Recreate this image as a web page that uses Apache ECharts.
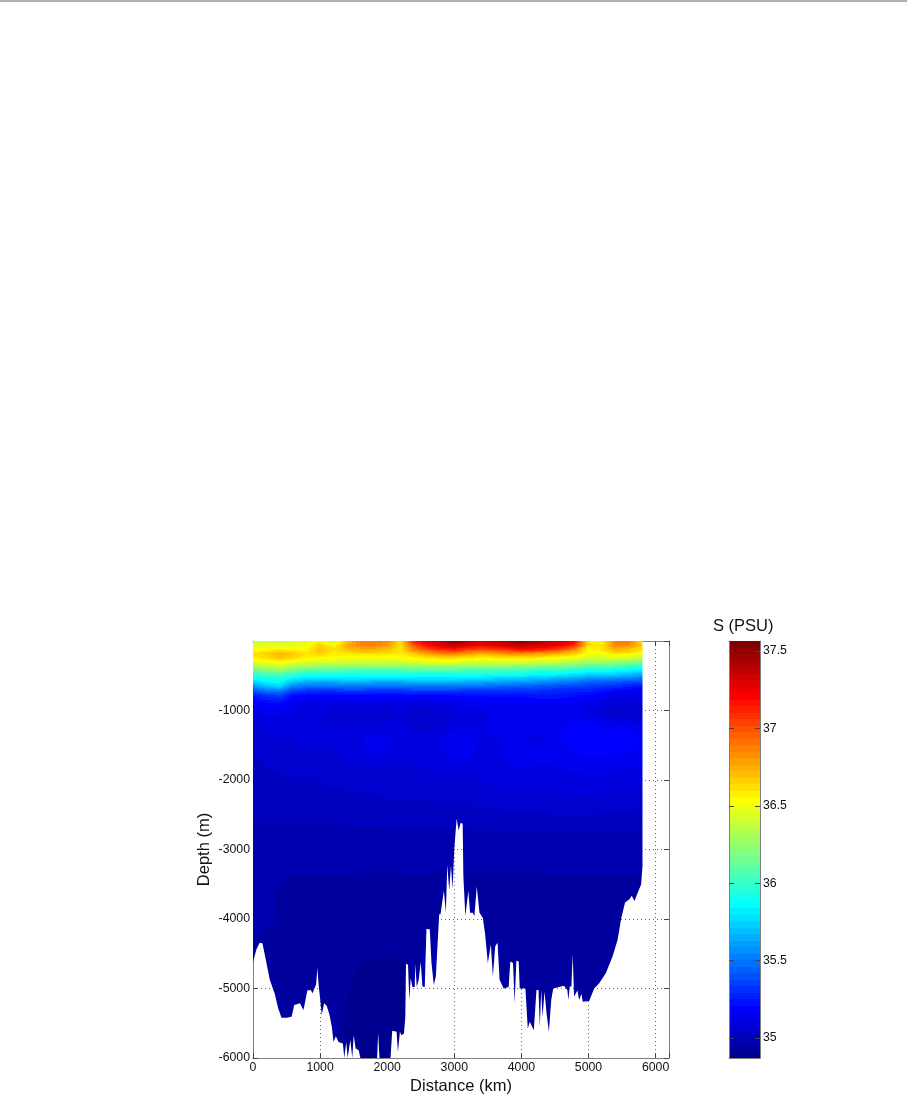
<!DOCTYPE html>
<html><head><meta charset="utf-8">
<style>html,body{margin:0;padding:0;background:#fff}#c{width:907px;height:1114px}</style>
<script src="https://cdn.jsdelivr.net/npm/echarts@6/dist/echarts.min.js"></script>
</head><body><div id="c"></div>
<script>
const xTicks=[0,1000,2000,3000,4000,5000,6000];
const depthTicks=[-6000,-5000,-4000,-3000,-2000,-1000];
const colorbarTicks=[35,35.5,36,36.5,37,37.5];
const distances=[0,200,400,600,800,1000,1200,1400,1600,1800,2000,2200,2400,2600,2800,3000,3200,3400,3600,3800,4000,4200,4400,4600,4800,5000,5200,5400,5600,5810];
const depths=[0,60,120,180,240,300,360,420,480,540,600,660,720,780,900,1000,1100,1200,1400,1600,1800,2000,2400,2800,3200,3600,4000,4400,5000,6000];
const salinity=[
[36.38,36.38,36.4,36.42,36.45,36.55,36.35,36.7,36.85,36.9,36.85,36.6,37.15,37.3,37.4,37.55,37.4,37.35,37.4,37.45,37.55,37.45,37.4,37.35,37.2,36.6,36.55,36.85,36.9,36.6],
[36.44,36.44,36.46,36.46,36.5,36.65,36.55,36.75,36.85,36.85,36.8,36.6,37.0,37.2,37.3,37.4,37.3,37.25,37.3,37.35,37.4,37.35,37.3,37.25,37.1,36.6,36.6,36.85,36.85,36.65],
[36.52,36.54,36.58,36.55,36.55,36.7,36.6,36.7,36.75,36.75,36.7,36.6,36.85,37.0,37.1,37.15,37.05,37.0,37.05,37.1,37.2,37.15,37.1,37.0,36.85,36.55,36.6,36.75,36.7,36.6],
[36.6,36.65,36.72,36.68,36.6,36.65,36.58,36.6,36.62,36.62,36.6,36.58,36.68,36.78,36.85,36.88,36.8,36.75,36.78,36.82,36.85,36.8,36.78,36.72,36.65,36.5,36.52,36.6,36.58,36.5],
[36.58,36.62,36.7,36.62,36.55,36.55,36.52,36.5,36.5,36.5,36.52,36.52,36.55,36.6,36.62,36.62,36.6,36.55,36.58,36.6,36.6,36.58,36.56,36.52,36.5,36.42,36.42,36.45,36.42,36.38],
[36.5,36.52,36.55,36.5,36.45,36.45,36.45,36.42,36.42,36.42,36.42,36.42,36.45,36.48,36.48,36.48,36.45,36.45,36.45,36.45,36.45,36.42,36.42,36.38,36.35,36.3,36.3,36.28,36.25,36.2],
[36.32,36.38,36.42,36.35,36.3,36.28,36.28,36.25,36.25,36.25,36.25,36.25,36.28,36.28,36.28,36.28,36.25,36.25,36.25,36.25,36.22,36.2,36.2,36.18,36.15,36.1,36.1,36.08,36.02,36.0],
[36.15,36.22,36.25,36.15,36.1,36.08,36.08,36.05,36.05,36.05,36.05,36.05,36.08,36.08,36.08,36.08,36.05,36.05,36.05,36.05,36.02,36.0,36.0,35.98,35.95,35.9,35.9,35.88,35.85,35.82],
[35.98,36.02,36.05,35.98,35.92,35.92,35.92,35.92,35.92,35.9,35.9,35.9,35.92,35.92,35.92,35.92,35.9,35.9,35.9,35.88,35.88,35.85,35.85,35.82,35.78,35.74,35.72,35.72,35.68,35.65],
[35.88,35.92,35.95,35.85,35.78,35.78,35.78,35.8,35.8,35.78,35.78,35.78,35.8,35.8,35.8,35.8,35.78,35.78,35.75,35.72,35.72,35.7,35.68,35.65,35.62,35.58,35.56,35.55,35.52,35.5],
[35.72,35.82,35.85,35.68,35.62,35.62,35.62,35.65,35.65,35.62,35.62,35.62,35.65,35.65,35.65,35.65,35.62,35.62,35.6,35.58,35.56,35.55,35.52,35.5,35.48,35.42,35.42,35.4,35.36,35.35],
[35.55,35.68,35.72,35.5,35.48,35.45,35.45,35.48,35.48,35.45,35.45,35.45,35.48,35.48,35.48,35.48,35.46,35.46,35.44,35.42,35.42,35.4,35.38,35.36,35.34,35.32,35.3,35.28,35.25,35.22],
[35.38,35.48,35.5,35.35,35.3,35.3,35.3,35.32,35.32,35.3,35.3,35.3,35.32,35.32,35.32,35.32,35.3,35.3,35.3,35.3,35.3,35.3,35.28,35.26,35.26,35.26,35.22,35.18,35.16,35.15],
[35.25,35.32,35.35,35.22,35.2,35.18,35.18,35.2,35.2,35.2,35.2,35.2,35.2,35.2,35.2,35.22,35.22,35.22,35.22,35.22,35.22,35.24,35.24,35.24,35.22,35.2,35.16,35.12,35.12,35.12],
[35.16,35.2,35.2,35.14,35.12,35.12,35.12,35.12,35.12,35.12,35.12,35.1,35.1,35.1,35.12,35.12,35.14,35.14,35.16,35.16,35.16,35.16,35.16,35.16,35.16,35.14,35.1,35.08,35.08,35.08],
[35.12,35.14,35.14,35.12,35.1,35.09,35.08,35.06,35.08,35.06,35.08,35.09,35.07,35.06,35.07,35.09,35.11,35.12,35.14,35.15,35.15,35.15,35.14,35.13,35.14,35.1,35.07,35.06,35.07,35.05],
[35.1,35.12,35.12,35.11,35.1,35.08,35.06,35.04,35.07,35.04,35.07,35.08,35.05,35.04,35.05,35.08,35.1,35.11,35.13,35.15,35.16,35.16,35.14,35.15,35.16,35.14,35.1,35.07,35.08,35.05],
[35.08,35.1,35.1,35.1,35.1,35.09,35.08,35.08,35.09,35.08,35.09,35.09,35.07,35.06,35.07,35.09,35.12,35.12,35.13,35.13,35.15,35.14,35.13,35.16,35.17,35.18,35.16,35.14,35.14,35.12],
[35.06,35.08,35.08,35.08,35.09,35.09,35.1,35.1,35.12,35.14,35.13,35.11,35.1,35.1,35.12,35.16,35.15,35.12,35.12,35.14,35.13,35.11,35.13,35.17,35.18,35.19,35.19,35.2,35.2,35.16],
[35.04,35.05,35.06,35.07,35.08,35.07,35.08,35.09,35.1,35.13,35.12,35.1,35.09,35.09,35.12,35.16,35.14,35.11,35.1,35.14,35.16,35.14,35.13,35.15,35.17,35.18,35.18,35.17,35.17,35.14],
[35.03,35.04,35.05,35.05,35.06,35.07,35.06,35.07,35.08,35.08,35.08,35.08,35.08,35.08,35.1,35.1,35.1,35.1,35.1,35.12,35.13,35.12,35.12,35.13,35.14,35.14,35.14,35.13,35.13,35.12],
[35.02,35.02,35.03,35.04,35.04,35.04,35.05,35.05,35.05,35.06,35.06,35.06,35.06,35.06,35.07,35.07,35.07,35.08,35.09,35.1,35.1,35.1,35.1,35.1,35.1,35.11,35.11,35.1,35.1,35.09],
[35.01,35.01,35.01,35.01,35.01,35.01,35.01,35.02,35.02,35.02,35.03,35.03,35.03,35.03,35.03,35.03,35.03,35.04,35.04,35.05,35.05,35.05,35.05,35.06,35.06,35.06,35.05,35.05,35.05,35.04],
[34.985,34.985,34.985,34.985,34.985,34.985,34.985,34.985,34.985,34.985,34.985,34.985,34.985,34.985,34.985,34.985,34.985,34.985,34.985,34.985,34.985,34.985,34.985,34.985,34.985,34.985,34.985,34.985,34.985,34.985],
[34.97,34.97,34.97,34.97,34.975,34.975,34.975,34.975,34.965,34.96,34.96,34.965,34.97,34.97,34.96,34.96,34.96,34.96,34.96,34.96,34.96,34.965,34.97,34.97,34.97,34.97,34.97,34.97,34.97,34.965],
[34.97,34.96,34.95,34.93,34.93,34.93,34.93,34.93,34.935,34.935,34.935,34.935,34.935,34.935,34.935,34.935,34.935,34.935,34.935,34.935,34.935,34.935,34.935,34.935,34.935,34.935,34.935,34.935,34.935,34.935],
[34.97,34.96,34.95,34.925,34.925,34.925,34.925,34.925,34.925,34.925,34.925,34.925,34.925,34.93,34.94,34.925,34.925,34.925,34.925,34.925,34.925,34.925,34.925,34.925,34.925,34.925,34.925,34.925,34.925,34.925],
[34.95,34.94,34.93,34.93,34.93,34.93,34.93,34.93,34.92,34.92,34.92,34.92,34.93,34.96,34.96,34.93,34.93,34.93,34.93,34.93,34.93,34.93,34.93,34.93,34.93,34.93,34.93,34.93,34.93,34.93],
[34.93,34.93,34.93,34.93,34.93,34.93,34.93,34.915,34.9,34.89,34.89,34.89,34.92,35.0,34.95,34.93,34.93,34.93,34.93,34.93,34.93,34.93,34.93,34.93,34.93,34.93,34.93,34.93,34.93,34.93],
[34.93,34.93,34.93,34.93,34.93,34.93,34.93,34.9,34.89,34.89,34.89,34.89,34.91,34.92,34.93,34.93,34.93,34.93,34.93,34.93,34.93,34.93,34.93,34.93,34.93,34.93,34.93,34.93,34.93,34.93]
];
const bottomKm=[0,50,100,140,175,250,325,375,425,500,575,615,700,750,765,810,860,890,910,940,960,980,1000,1025,1060,1100,1140,1175,1200,1235,1275,1340,1360,1390,1410,1450,1480,1500,1530,1575,1600,1850,1865,1885,2050,2075,2140,2160,2190,2210,2250,2270,2280,2310,2330,2350,2375,2410,2420,2440,2470,2500,2525,2560,2585,2635,2660,2695,2725,2775,2795,2845,2875,2895,2925,2950,2975,3000,3035,3065,3095,3125,3135,3165,3210,3235,3275,3300,3335,3375,3425,3460,3500,3545,3575,3610,3645,3675,3735,3810,3835,3875,3900,3925,3960,3975,4060,4095,4125,4185,4225,4255,4275,4295,4315,4345,4375,4410,4445,4475,4635,4685,4700,4720,4745,4765,4785,4835,4860,4895,4915,5010,5085,5160,5260,5360,5435,5485,5545,5610,5645,5685,5735,5785,5805];
const bottomDepth=[-4623,-4440,-4343,-4350,-4510,-4875,-5080,-5285,-5420,-5420,-5405,-5237,-5213,-5310,-5250,-5030,-5020,-5068,-5010,-4947,-4705,-4970,-5140,-5380,-5213,-5250,-5380,-5550,-5768,-5686,-5768,-5790,-6000,-5768,-6000,-5744,-6000,-5672,-5865,-5890,-6000,-6000,-5638,-6000,-6000,-5609,-5623,-5913,-5623,-5672,-5647,-5406,-4643,-4657,-5165,-4850,-4980,-4980,-4643,-4980,-4875,-4620,-4970,-4980,-4140,-4150,-4633,-4950,-4826,-3933,-3933,-3595,-3909,-3218,-3595,-3232,-3570,-2990,-2556,-2725,-2615,-2630,-3377,-3957,-3595,-3909,-3909,-3957,-3532,-3909,-3981,-4222,-4633,-4367,-4826,-4392,-4343,-4875,-5000,-4980,-4610,-4633,-5213,-4600,-4610,-5000,-5000,-5575,-5478,-5600,-5020,-5020,-5550,-5020,-5406,-5044,-5358,-5623,-5164,-5000,-4960,-5020,-5164,-4970,-4970,-4512,-5116,-5030,-5164,-5078,-5189,-5180,-5000,-4923,-4778,-4535,-4295,-4005,-3764,-3715,-3667,-3740,-3620,-3500,-3233];
const colorMin=34.87,colorMax=37.565,levels=64;

function jet(i){
  const t=(i+1)/levels,c=v=>Math.round(255*Math.max(0,Math.min(1,1.5-Math.abs(4*t-v))));
  return 'rgb('+c(3)+','+c(2)+','+c(1)+')';
}
function levelOf(s){return Math.max(0,Math.min(levels-1,Math.floor((s-colorMin)/(colorMax-colorMin)*levels)));}
function bracket(arr,v){let i=0;while(i<arr.length-2&&arr[i+1]<v)i++;return i;}
function sample(km,dep){
  const i=bracket(distances,km),j=bracket(depths,dep);
  const u=Math.min(1,(km-distances[i])/(distances[i+1]-distances[i]));
  const v=Math.min(1,(dep-depths[j])/(depths[j+1]-depths[j]));
  const a=salinity[j][i],b=salinity[j][i+1],c=salinity[j+1][i],d=salinity[j+1][i+1];
  return (a*(1-u)+b*u)*(1-v)+(c*(1-u)+d*u)*v;
}
function renderField(params,api){
  const children=[],stepKm=30,stepM=7;
  for(let km=0;km<5805;km+=stepKm){
    const x0=Math.round(api.coord([km,0])[0]),x1=Math.round(api.coord([km+stepKm,0])[0]);
    let start=0,cur=levelOf(sample(km+stepKm/2,stepM/2));
    for(let d=stepM;d<=6000+stepM;d+=stepM){
      const lv=d<6000?levelOf(sample(km+stepKm/2,d+stepM/2)):-1;
      if(lv!==cur){
        const y0=Math.round(api.coord([0,-start])[1]),y1=Math.round(api.coord([0,-Math.min(d,6000)])[1]);
        if(y1>y0)children.push({type:'rect',shape:{x:x0,y:y0,width:x1-x0,height:y1-y0},style:{fill:jet(cur)}});
        start=d;cur=lv;
      }
    }
  }
  const pts=[api.coord([0,0]),api.coord([5805,0])];
  for(let k=bottomKm.length-1;k>=0;k--)pts.push(api.coord([bottomKm[k],bottomDepth[k]]));
  return {type:'group',clipPath:{type:'polygon',shape:{points:pts}},children};
}
const barLevels=Array.from({length:levels},(_,i)=>[i]);
function renderBar(params,api){
  const i=api.value(0),w=colorMin+(colorMax-colorMin)*i/levels,h=colorMin+(colorMax-colorMin)*(i+1)/levels;
  const a=api.coord([0,w]),b=api.coord([1,h]);
  const y0=Math.round(b[1]),y1=Math.round(a[1]);
  return {type:'rect',shape:{x:a[0],y:y0,width:b[0]-a[0],height:y1-y0},style:{fill:jet(i)}};
}
const font='"Liberation Sans",Arial,sans-serif';
const boxColor='#7f7f7f';
const line={show:true,onZero:false,lineStyle:{color:boxColor,width:1}};
const tick={show:true,inside:true,length:5,lineStyle:{color:'#444',width:1}};
const lbl={color:'#111',fontFamily:font,fontSize:12.3,formatter:v=>String(v)};
const grid1={left:253,top:641,width:416,height:417};
const chart=echarts.init(document.getElementById('c'),null,{renderer:'canvas'});
chart.setOption({
  animation:false,backgroundColor:'#fff',
  graphic:[
    {type:'rect',left:0,top:0,shape:{width:907,height:2},style:{fill:'#b0b0b0'},silent:true},
    {type:'text',left:713,top:618,style:{text:'S (PSU)',font:'16.5px '+font,fill:'#111'},silent:true}
  ],
  grid:[Object.assign({containLabel:false},grid1),{left:729,top:641,width:31,height:417}],
  xAxis:[
    {gridIndex:0,type:'value',min:0,max:6200,interval:1000,position:'bottom',axisLine:line,axisTick:tick,
     axisLabel:Object.assign({},lbl,{margin:4,customValues:xTicks}),
     splitLine:{show:true,lineStyle:{color:'#666',type:[1,3],width:1}},
     name:'Distance (km)',nameLocation:'middle',nameGap:20,nameTextStyle:{fontFamily:font,fontSize:16.5,color:'#111'}},
    {gridIndex:0,type:'value',min:0,max:6200,interval:1000,position:'top',axisLine:line,axisTick:tick,axisLabel:{show:false},splitLine:{show:false}},
    {gridIndex:1,type:'value',min:0,max:1,position:'bottom',axisLine:line,axisTick:{show:false},axisLabel:{show:false},splitLine:{show:false}},
    {gridIndex:1,type:'value',min:0,max:1,position:'top',axisLine:line,axisTick:{show:false},axisLabel:{show:false},splitLine:{show:false}}
  ],
  yAxis:[
    {gridIndex:0,type:'value',min:-6000,max:0,interval:1000,position:'left',axisLine:line,axisTick:tick,
     axisLabel:Object.assign({},lbl,{margin:3,customValues:depthTicks}),
     splitLine:{show:true,lineStyle:{color:'#666',type:[1,3],width:1}},
     name:'Depth (m)',nameLocation:'middle',nameGap:40,nameTextStyle:{fontFamily:font,fontSize:16.5,color:'#111'}},
    {gridIndex:0,type:'value',min:-6000,max:0,interval:1000,position:'right',axisLine:line,axisTick:tick,axisLabel:{show:false},splitLine:{show:false}},
    {gridIndex:1,type:'value',min:colorMin,max:colorMax,position:'right',z:6,axisLine:line,
     axisTick:Object.assign({},tick,{customValues:colorbarTicks}),
     axisLabel:Object.assign({},lbl,{margin:3,customValues:colorbarTicks}),splitLine:{show:false}},
    {gridIndex:1,type:'value',min:colorMin,max:colorMax,position:'left',z:6,axisLine:line,
     axisTick:Object.assign({},tick,{customValues:colorbarTicks}),axisLabel:{show:false},splitLine:{show:false}}
  ],
  series:[
    {type:'custom',xAxisIndex:0,yAxisIndex:0,data:[[0,0]],renderItem:renderField,silent:true,clip:true,z:2},
    {type:'custom',xAxisIndex:2,yAxisIndex:2,data:barLevels,renderItem:renderBar,silent:true,z:2,encode:{x:[],y:[]}}
  ]
});
</script></body></html>
